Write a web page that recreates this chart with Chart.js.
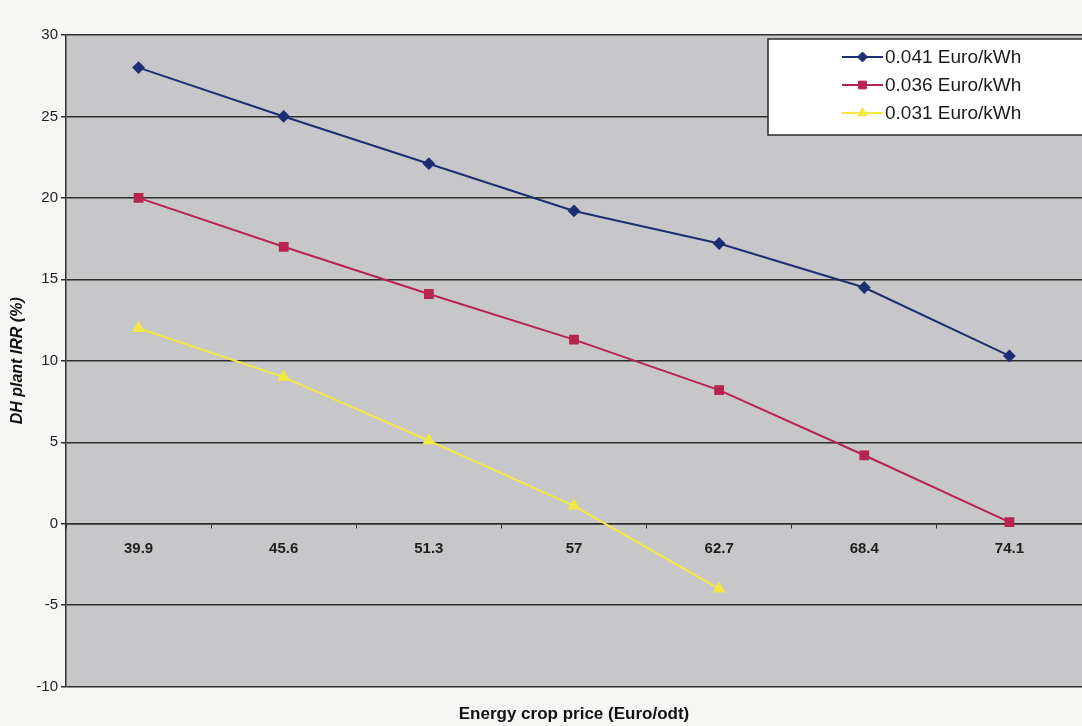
<!doctype html>
<html lang="en">
<head>
  <meta charset="utf-8">
  <title>DH plant IRR vs energy crop price</title>
  <script src="https://cdn.jsdelivr.net/npm/chart.js"></script>
  <style>
    html, body { margin: 0; padding: 0; background: #f6f6f4; }
    #wrap { width: 1082px; height: 726px; }
  </style>
</head>
<body>
  <div id="wrap"><canvas id="irrChart" width="1082" height="726"></canvas></div>

  <script>
    // energy crop price categories (Euro/odt)
    const prices = ['39.9', '45.6', '51.3', '57', '62.7', '68.4', '74.1'];

    // IRR (%) per electricity price
    const irr041 = [28, 25, 22.1, 19.2, 17.2, 14.5, 10.3];
    const irr036 = [20, 17, 14.1, 11.3, 8.2, 4.2, 0.1];
    const irr031 = [12, 9, 5.1, 1.1, -4, null, null];

    const seriesNames = ['0.041 Euro/kWh', '0.036 Euro/kWh', '0.031 Euro/kWh'];
    const yTicks = [-10, -5, 0, 5, 10, 15, 20, 25, 30];

    const gridColor = '#2e2e2e';
    const plotFill = '#c7c7c9';

    // grey plot area behind the lines
    const plotBackground = {
      id: 'plotBackground',
      beforeDraw(chart) {
        const { ctx, chartArea: a } = chart;
        ctx.save();
        ctx.fillStyle = plotFill;
        ctx.fillRect(a.left, a.top, a.right - a.left, a.bottom - a.top);
        ctx.restore();
      }
    };

    // boxed legend in the top right corner, line + marker per series
    const boxLegend = {
      id: 'boxLegend',
      afterDatasetsDraw(chart) {
        const { ctx } = chart;
        const left = 768, top = 39, w = 330, h = 96;
        ctx.save();
        ctx.fillStyle = '#ffffff';
        ctx.fillRect(left, top, w, h);
        ctx.strokeStyle = '#2a2a2a';
        ctx.lineWidth = 1.5;
        ctx.strokeRect(left, top, w, h);
        ctx.font = '19px "Liberation Sans", Arial, sans-serif';
        ctx.textBaseline = 'middle';
        chart.data.datasets.forEach((ds, i) => {
          const y = top + 18 + i * 28;
          const x0 = left + 74, x1 = left + 115;
          ctx.strokeStyle = ds.borderColor;
          ctx.fillStyle = ds.borderColor;
          ctx.lineWidth = 2;
          ctx.beginPath();
          ctx.moveTo(x0, y);
          ctx.lineTo(x1, y);
          ctx.stroke();
          ctx.lineWidth = 1;
          Chart.helpers.drawPoint(ctx, {
            pointStyle: ds.pointStyle,
            radius: ds.pointRadius,
            borderWidth: 1
          }, (x0 + x1) / 2, y);
          ctx.fillStyle = '#1a1a1a';
          ctx.fillText(ds.label, x1 + 2, y + 1);
        });
        ctx.restore();
      }
    };

    function series(label, data, color, style, radius) {
      return {
        label, data,
        borderColor: color,
        backgroundColor: color,
        borderWidth: 2,
        pointStyle: style,
        pointRadius: radius,
        pointBorderColor: color,
        pointBackgroundColor: color,
        tension: 0,
        spanGaps: false
      };
    }

    Chart.defaults.font.family = '"Liberation Sans", Arial, sans-serif';
    Chart.defaults.color = '#1e1e1e';

    new Chart(document.getElementById('irrChart'), {
      type: 'line',
      data: {
        labels: prices,
        datasets: [
          series(seriesNames[0], irr041, '#1d2f72', 'rectRot', 5),
          series(seriesNames[1], irr036, '#b82450', 'rect', 5.5),
          series(seriesNames[2], irr031, '#f3e842', 'triangle', 5.5)
        ]
      },
      options: {
        responsive: false,
        animation: false,
        layout: {
          autoPadding: false,
          padding: { top: 35, right: 0, left: 0, bottom: 0 }
        },
        plugins: {
          legend: { display: false },
          tooltip: { enabled: false },
          title: {
            display: true,
            position: 'bottom',
            fullSize: false,
            text: 'Energy crop price (Euro/odt)',
            color: '#111',
            font: { size: 17, weight: 'bold' },
            padding: { top: 18, bottom: 1 }
          }
        },
        scales: {
          x: {
            type: 'category',
            position: { y: 0 },
            offset: true,
            border: { display: true, color: gridColor, width: 1.5 },
            grid: {
              offset: true,
              drawOnChartArea: false,
              drawTicks: true,
              tickLength: 4,
              color: gridColor
            },
            ticks: {
              padding: 12,
              color: '#1e1e1e',
              font: { size: 15, weight: 'bold' }
            }
          },
          y: {
            min: -10,
            max: 30,
            afterBuildTicks(scale) {
              scale.ticks = yTicks.map(v => ({ value: v }));
            },
            afterFit(scale) { scale.width = 66; },
            border: { display: true, color: gridColor, width: 1.5 },
            grid: {
              color: gridColor,
              lineWidth: 1.5,
              tickLength: 5
            },
            ticks: {
              padding: 3,
              color: '#1e1e1e',
              font: { size: 15 }
            },
            title: {
              display: true,
              text: 'DH plant IRR (%)',
              color: '#111',
              font: { size: 16, weight: 'bold', style: 'italic' },
              padding: { top: 8, bottom: 0 }
            }
          }
        }
      },
      plugins: [plotBackground, boxLegend]
    });
  </script>
</body>
</html>
